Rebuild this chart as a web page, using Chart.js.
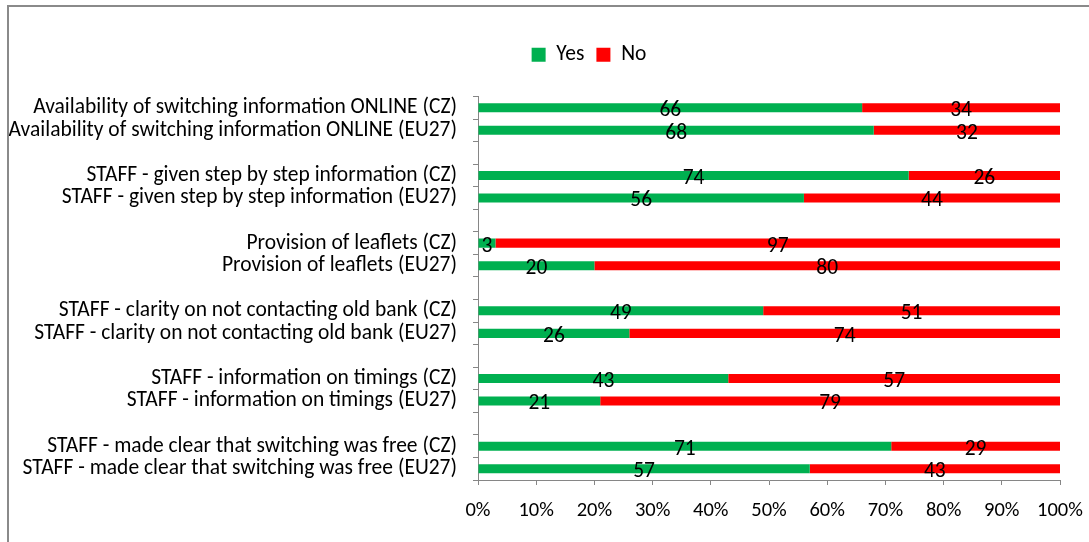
<!DOCTYPE html>
<html>
<head>
<meta charset="utf-8">
<script src="https://cdn.jsdelivr.net/npm/chart.js@4"></script>
<style>
  html, body { margin: 0; padding: 0; background: #fff; }
  #wrap { position: relative; width: 1089px; height: 542px; overflow: hidden; }
  #frame {
    position: absolute; left: 7px; top: 5px; right: -4px; bottom: -4px;
    border-top: 2px solid #8a8a8a; border-left: 2px solid #8a8a8a;
    pointer-events: none;
  }
  canvas { position: absolute; left: 0; top: 0; }
</style>
</head>
<body>
<div id="wrap">
  <canvas id="chart" width="1089" height="542"></canvas>
  <div id="frame"></div>
</div>
<script>
// Switching survey answers, share of respondents (%)
const categories = [
  "Availability of switching information ONLINE (CZ)",
  "Availability of switching information ONLINE (EU27)",
  "",
  "STAFF - given step by step information (CZ)",
  "STAFF - given step by step information (EU27)",
  "",
  "Provision of leaflets (CZ)",
  "Provision of leaflets (EU27)",
  "",
  "STAFF - clarity on not contacting old bank (CZ)",
  "STAFF - clarity on not contacting old bank (EU27)",
  "",
  "STAFF - information on timings (CZ)",
  "STAFF - information on timings (EU27)",
  "",
  "STAFF - made clear that switching was free (CZ)",
  "STAFF - made clear that switching was free (EU27)",
];
const yesValues = [66, 68, null, 74, 56, null, 3, 20, null, 49, 26, null, 43, 21, null, 71, 57];
const noValues = [34, 32, null, 26, 44, null, 97, 80, null, 51, 74, null, 57, 79, null, 29, 43];
const xTicks = [0, 10, 20, 30, 40, 50, 60, 70, 80, 90, 100];

const FONT = "Carlito, 'Open Sans', sans-serif";
const axisColor = "#868686";

// value labels drawn in the middle of each bar segment
const barLabels = {
  id: "barLabels",
  afterDatasetsDraw(chart) {
    const ctx = chart.ctx;
    ctx.save();
    ctx.font = "21.5px " + FONT;
    ctx.fillStyle = "#000";
    ctx.textAlign = "center";
    ctx.textBaseline = "middle";
    chart.data.datasets.forEach((ds, i) => {
      chart.getDatasetMeta(i).data.forEach((bar, j) => {
        if (ds.data[j] == null) return;
        const cx = (bar.x + bar.base) / 2;
        ctx.fillText(String(ds.data[j]), cx, bar.y + 3);
      });
    });
    ctx.restore();
  },
};

// the legend sits a little right of the canvas centre
const legendShift = {
  id: "legendShift",
  afterLayout(chart) {
    chart.legend.left += 59;
    chart.legend.right += 59;
  },
};

new Chart(document.getElementById("chart"), {
  type: "bar",
  data: {
    labels: categories,
    datasets: [
      {
        label: "Yes",
        data: yesValues,
        backgroundColor: "#00B050",
        barPercentage: 0.8,
        categoryPercentage: 0.5,
      },
      {
        label: "No",
        data: noValues,
        backgroundColor: "#FF0000",
        barPercentage: 0.8,
        categoryPercentage: 0.5,
      },
    ],
  },
  options: {
    indexAxis: "y",
    responsive: false,
    animation: false,
    layout: {
      padding: { left: 0, right: 29, top: 32, bottom: 0 },
    },
    plugins: {
      legend: {
        position: "top",
        labels: {
          color: "#000",
          font: { family: FONT, size: 21.5 },
          boxWidth: 14,
          boxHeight: 14,
          padding: 12,
        },
      },
      tooltip: { enabled: false },
    },
    scales: {
      x: {
        stacked: true,
        min: 0,
        max: 100,
        afterBuildTicks: function (axis) {
          axis.ticks = xTicks.map((v) => ({ value: v }));
        },
        afterFit: function (axis) {
          axis.height = 62;
          axis.paddingRight = 20;
        },
        ticks: {
          color: "#000",
          font: { family: FONT, size: 20.5 },
          padding: 14,
          maxRotation: 0,
          callback: function (value) {
            return value + "%";
          },
        },
        grid: {
          drawOnChartArea: false,
          color: axisColor,
          tickLength: 5,
        },
        border: { color: axisColor, width: 1 },
      },
      // empty band that keeps the legend away from the bars
      gap: {
        type: "linear",
        axis: "x",
        position: "top",
        afterFit: function (axis) {
          axis.height = 21;
        },
        ticks: { display: false },
        grid: { display: false },
        border: { display: false },
      },
      y: {
        stacked: true,
        afterFit: function (axis) {
          axis.width = 478;
        },
        ticks: {
          color: "#000",
          font: { family: FONT, size: 21.5 },
          padding: 16,
          autoSkip: false,
        },
        grid: {
          drawOnChartArea: false,
          color: axisColor,
          tickLength: 5,
          offset: true,
        },
        border: { color: axisColor, width: 1 },
      },
    },
  },
  plugins: [barLabels, legendShift],
});
</script>
</body>
</html>
